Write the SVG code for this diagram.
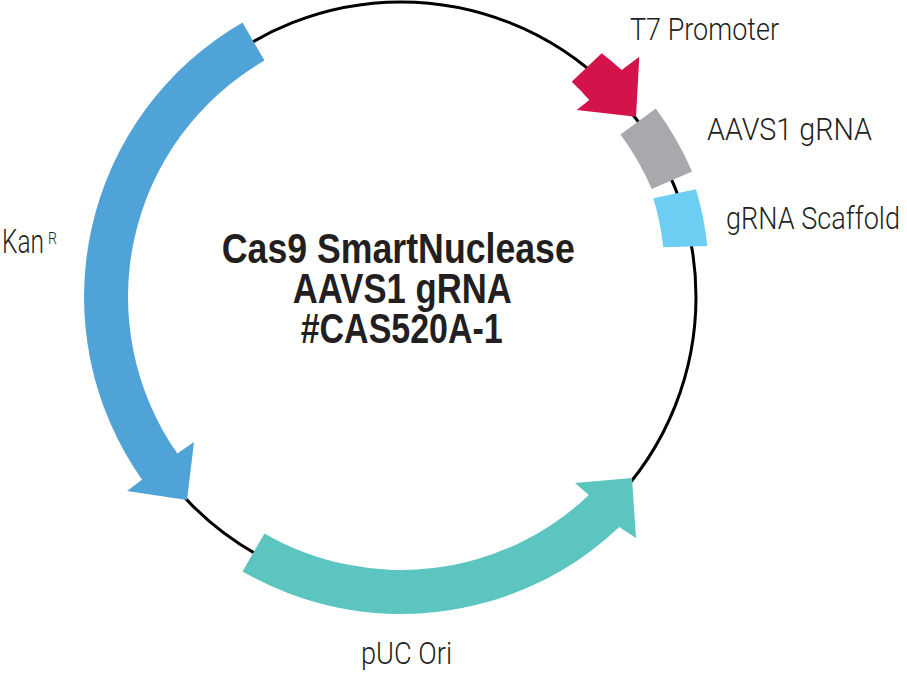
<svg xmlns="http://www.w3.org/2000/svg" width="907" height="675" viewBox="0 0 907 675">
<style>
.lbl{font-family:Roboto,"Liberation Sans",sans-serif;font-weight:300;font-size:32px;fill:#231f20}
.ttl{font-family:"Liberation Sans",Arial,sans-serif;font-weight:bold;font-size:42px;fill:#231f20;text-anchor:middle}
.bb{fill:none;stroke:#000;stroke-width:3}
</style>
<rect width="907" height="675" fill="#fff"/>
<g id="backbone">
<circle class="bb" cx="401" cy="297" r="295"/>
</g>
<g id="kanr">
<path d="M 242.5 22.5 A 317 317 0 0 0 142 479.7 L 127 491 L 187 500 L 194 442 L 177.4 453.6 A 273 273 0 0 1 264.5 60.6 Z" fill="#50A3D6"/>
<text class="lbl" x="2" y="253" style="font-size:33px"><tspan textLength="42" lengthAdjust="spacingAndGlyphs">Kan</tspan><tspan x="48" y="244" style="font-size:17px" textLength="9" lengthAdjust="spacingAndGlyphs">R</tspan></text>
</g>
<g id="puc">
<path d="M 264.5 533.4 A 273 273 0 0 0 588.9 495 L 575 483 L 632 478 L 636 538 L 619.2 527 A 317 317 0 0 1 242.5 571.5 Z" fill="#5CC5BF"/>
<text class="lbl" x="361" y="664" textLength="91" lengthAdjust="spacingAndGlyphs">pUC Ori</text>
</g>
<g id="t7">
<path d="M 601.7 53.3 A 316 316 0 0 1 621.7 70 L 639.3 56.7 L 636 116.7 L 576.7 110 L 589.3 100 A 273 273 0 0 0 571.7 81.7 Z" fill="#D3134A"/>
<text class="lbl" x="630" y="40" textLength="149" lengthAdjust="spacingAndGlyphs">T7 Promoter</text>
</g>
<g id="aavs1">
<path d="M 620.5 134.6 L 655.8 108.4 A 317 317 0 0 1 692.1 171.6 L 651.7 189 A 273 273 0 0 0 620.5 134.6 Z" fill="#A7A9AC"/>
<text class="lbl" x="707" y="140" textLength="165" lengthAdjust="spacingAndGlyphs">AAVS1 gRNA</text>
</g>
<g id="scaffold">
<path d="M 653.3 198.3 L 696 189.3 A 315 315 0 0 1 707.3 246 L 663.3 247.3 A 270 270 0 0 0 653.3 198.3 Z" fill="#6BCEF2"/>
<text class="lbl" x="726" y="229" textLength="174" lengthAdjust="spacingAndGlyphs">gRNA Scaffold</text>
</g>
<g id="title">
<text class="ttl" x="398.3" y="263" textLength="353" lengthAdjust="spacingAndGlyphs">Cas9 SmartNuclease</text>
<text class="ttl" x="402.3" y="303" textLength="219" lengthAdjust="spacingAndGlyphs">AAVS1 gRNA</text>
<text class="ttl" x="401.7" y="343" textLength="202" lengthAdjust="spacingAndGlyphs">#CAS520A-1</text>
</g>
</svg>
